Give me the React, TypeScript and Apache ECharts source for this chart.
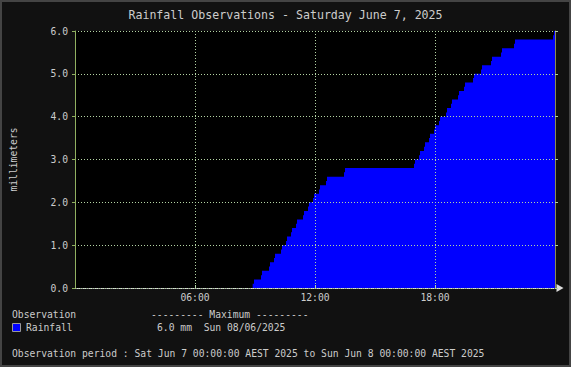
import React, { useEffect, useRef } from "react";
import * as echarts from "echarts";

// Observation times (minutes since 00:00) and cumulative rainfall (mm)
const obsMinutes = [
  0, 533, 537, 558, 561, 582, 585, 597, 600, 618, 621, 633, 636, 648, 651, 663, 666,
  684, 687, 699, 702, 714, 717, 732, 735, 753, 756, 807, 810, 1017, 1020, 1032, 1035,
  1047, 1050, 1062, 1065, 1077, 1080, 1092, 1095, 1113, 1116, 1128, 1131, 1149, 1152,
  1167, 1170, 1194, 1197, 1218, 1221, 1248, 1251, 1278, 1281, 1317, 1320, 1434, 1437, 1440,
];
const rainfallMm = [
  0.0, 0.1, 0.2, 0.3, 0.4, 0.5, 0.6, 0.7, 0.8, 0.9, 1.0, 1.1, 1.2, 1.3, 1.4, 1.5, 1.6,
  1.7, 1.8, 1.9, 2.0, 2.1, 2.2, 2.3, 2.4, 2.5, 2.6, 2.7, 2.8, 2.9, 3.0, 3.1, 3.2,
  3.3, 3.4, 3.5, 3.6, 3.7, 3.8, 3.9, 4.0, 4.1, 4.2, 4.3, 4.4, 4.5, 4.6,
  4.7, 4.8, 4.9, 5.0, 5.1, 5.2, 5.3, 5.4, 5.5, 5.6, 5.7, 5.8, 5.9, 6.0, 6.0,
];
const xTickLabels = ["", "06:00", "12:00", "18:00", ""];

const titleText = "Rainfall Observations - Saturday June 7, 2025";
const yAxisName = "millimeters";
const legendHeader = "Observation";
const maxHeader = "--------- Maximum ---------";
const seriesName = "Rainfall";
const maxText = "6.0 mm  Sun 08/06/2025";
const periodText =
  "Observation period : Sat Jun 7 00:00:00 AEST 2025 to Sun Jun 8 00:00:00 AEST 2025";

const MONO = '"DejaVu Sans Mono", monospace';
const TEXT = "#cccccc";
const GRID = "#b4d4a4";

export default function App() {
  const ref = useRef<HTMLDivElement>(null);
  useEffect(() => {
    const chart = echarts.init(ref.current!, null, { renderer: "svg" });
    const data = obsMinutes.map((t, i) => [t, rainfallMm[i]]);
    const txt = (text: string, x: number, y: number) => ({
      type: "text",
      x,
      y,
      silent: true,
      style: {
        text,
        fill: TEXT,
        fontFamily: MONO,
        fontSize: 9.7,
        verticalAlign: "middle",
        align: "left",
      },
    });
    chart.setOption({
      animation: false,
      backgroundColor: "#111111",
      title: {
        text: titleText,
        left: "center",
        top: 4,
        textStyle: { color: TEXT, fontFamily: MONO, fontSize: 11.6, fontWeight: "normal" },
      },
      grid: {
        left: 75,
        right: 16,
        top: 31,
        bottom: 79,
        containLabel: false,
        outerBoundsMode: "none",
        backgroundColor: "#000000",
        show: true,
        borderWidth: 0,
      },
      xAxis: {
        type: "value",
        min: 0,
        max: 1440,
        interval: 360,
        z: 5,
        axisLine: {
          show: true,
          lineStyle: { color: "#dddddd", type: [1, 1], width: 1 },
          symbol: ["none", "triangle"],
          symbolSize: [8, 7],
          symbolOffset: [0, 5],
        },
        axisTick: { show: true, inside: true, length: 3, lineStyle: { color: GRID } },
        axisLabel: {
          color: TEXT,
          fontFamily: MONO,
          fontSize: 9.7,
          margin: 4,
          formatter: (v: number) => xTickLabels[Math.round(v / 360)] ?? "",
        },
        splitLine: { show: true, lineStyle: { color: GRID, type: [1, 2], width: 1 } },
      },
      yAxis: [
        {
          type: "value",
          min: 0,
          max: 6,
          interval: 1,
          z: 6,
          name: yAxisName,
          nameLocation: "middle",
          nameRotate: 90,
          nameGap: 57,
          nameTextStyle: { color: TEXT, fontFamily: MONO, fontSize: 9.7 },
          axisLine: { show: true, lineStyle: { color: "#90b060", width: 1 } },
          axisTick: { show: true, length: 3, lineStyle: { color: "#90b060" } },
          axisLabel: {
            color: TEXT,
            fontFamily: MONO,
            fontSize: 9.7,
            margin: 7,
            formatter: (v: number) => v.toFixed(1),
          },
          splitLine: { show: true, lineStyle: { color: GRID, type: [1, 2], width: 1 } },
        },
        {
          type: "value",
          min: 0,
          max: 6,
          interval: 1,
          position: "right",
          z: 6,
          axisLine: { show: true, lineStyle: { color: "#8c8c50", width: 1 } },
          axisTick: { show: true, length: 3, lineStyle: { color: GRID } },
          axisLabel: { show: false },
          splitLine: { show: false },
        },
      ],
      series: [
        {
          name: seriesName,
          type: "line",
          step: "end",
          data,
          showSymbol: false,
          symbol: "none",
          lineStyle: { width: 0, color: "#0000ff" },
          areaStyle: { color: "#0000ff", opacity: 1 },
          z: 2,
        },
      ],
      graphic: [
        {
          type: "rect",
          silent: true,
          shape: { x: 1, y: 1, width: 569, height: 365 },
          style: { fill: "none", stroke: "#444444", lineWidth: 2 },
        },
        txt(legendHeader, 12, 314),
        txt(maxHeader, 151, 314),
        {
          type: "rect",
          silent: true,
          shape: { x: 12.5, y: 323.5, width: 8, height: 8 },
          style: { fill: "#0000ff", stroke: "#999999", lineWidth: 1 },
        },
        txt(seriesName, 26, 327),
        txt(maxText, 157, 327),
        txt(periodText, 12, 353),
      ],
    });
    return () => chart.dispose();
  }, []);
  return (
    <div
      ref={ref}
      style={{ position: "fixed", left: 0, top: 0, width: 571, height: 367 }}
    />
  );
}
